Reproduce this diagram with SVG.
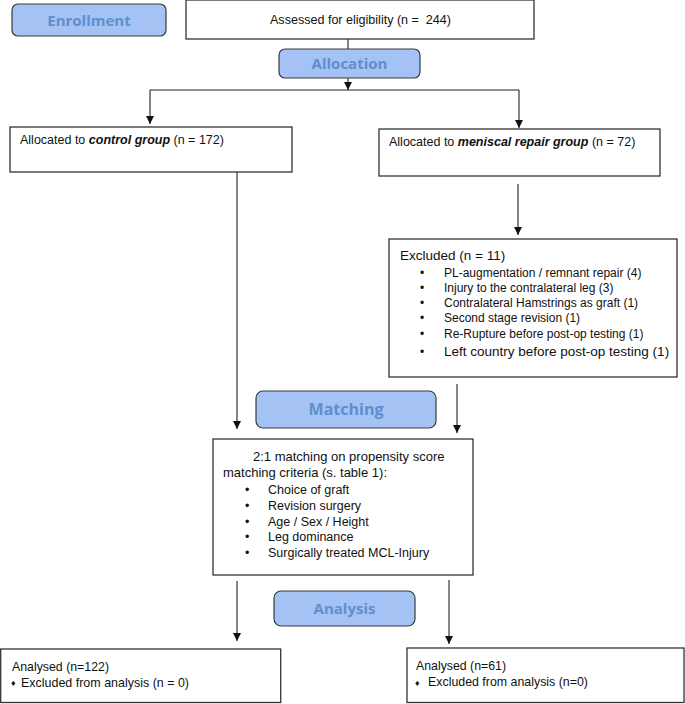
<svg xmlns="http://www.w3.org/2000/svg" width="685" height="704" viewBox="0 0 685 704">
<style>
.lbl{fill:#a4c2f4;stroke:#3a3a3a;stroke-width:1.2}
.lt{font-family:"Open Sans","Liberation Sans",sans-serif;font-weight:bold;fill:#5f8fcd;text-anchor:middle}
.box{fill:#fff;stroke:#333;stroke-width:1.3}
.t{font-family:"Liberation Sans",Arial,sans-serif;fill:#111}
.c{fill:none;stroke:#222;stroke-width:1.1}
</style>
<defs>
<marker id="ah" viewBox="0 0 10 10" refX="10" refY="5" markerWidth="8" markerHeight="8" markerUnits="userSpaceOnUse" orient="auto">
<path d="M0,0 L10,5 L0,10 z" fill="#111"/>
</marker>
</defs>
<g id="connectors">
<line class="c" x1="348" y1="39" x2="348" y2="49"/>
<line class="c" x1="348" y1="78" x2="348" y2="90" marker-end="url(#ah)"/>
<line class="c" x1="150" y1="90" x2="519" y2="90"/>
<line class="c" x1="150" y1="90" x2="150" y2="124" marker-end="url(#ah)"/>
<line class="c" x1="519" y1="90" x2="519" y2="128" marker-end="url(#ah)"/>
<line class="c" x1="518" y1="184" x2="518" y2="235" marker-end="url(#ah)"/>
<line class="c" x1="237" y1="172" x2="237" y2="429" marker-end="url(#ah)"/>
<line class="c" x1="457" y1="384" x2="457" y2="433" marker-end="url(#ah)"/>
<line class="c" x1="237" y1="581" x2="237" y2="641" marker-end="url(#ah)"/>
<line class="c" x1="449" y1="580" x2="449" y2="644" marker-end="url(#ah)"/>
</g>
<g id="enrollment">
<rect class="lbl" x="12" y="4" width="154" height="32" rx="6"/>
<text class="lt" x="89" y="26" font-size="15">Enrollment</text>
</g>
<g id="assessed">
<rect class="box" x="186" y="0" width="348" height="39"/>
<text class="t" x="270" y="24" font-size="13" xml:space="preserve" textLength="181" lengthAdjust="spacingAndGlyphs">Assessed for eligibility (n =  244)</text>
</g>
<g id="allocation">
<rect class="lbl" x="279" y="49" width="141" height="29" rx="6"/>
<text class="lt" x="349.5" y="69" font-size="15">Allocation</text>
</g>
<g id="control">
<rect class="box" x="10" y="127" width="282" height="45"/>
<text class="t" x="20" y="144" font-size="12.5">Allocated to <tspan font-weight="bold" font-style="italic">control group</tspan> (n = 172)</text>
</g>
<g id="meniscal">
<rect class="box" x="379" y="129" width="281" height="47"/>
<text class="t" x="389" y="146" font-size="12.5">Allocated to <tspan font-weight="bold" font-style="italic">meniscal repair group</tspan> (n = 72)</text>
</g>
<g id="excluded">
<rect class="box" x="389" y="239" width="288" height="138"/>
<text class="t" x="400" y="260" font-size="13.5">Excluded (n = 11)</text>
<g font-size="12" class="t">
<text x="420" y="277">•</text><text x="444" y="277">PL-augmentation / remnant repair (4)</text>
<text x="420" y="292">•</text><text x="444" y="292">Injury to the contralateral leg (3)</text>
<text x="420" y="307">•</text><text x="444" y="307">Contralateral Hamstrings as graft (1)</text>
<text x="420" y="322">•</text><text x="444" y="322">Second stage revision (1)</text>
<text x="420" y="338">•</text><text x="444" y="338">Re-Rupture before post-op testing (1)</text>
<text x="420" y="356">•</text><text x="444" y="356" font-size="13.5">Left country before post-op testing (1)</text>
</g>
</g>
<g id="matching">
<rect class="lbl" x="256" y="391" width="180" height="37" rx="7"/>
<text class="lt" x="346" y="415" font-size="16">Matching</text>
</g>
<g id="matchbox">
<rect class="box" x="213" y="439" width="260" height="136"/>
<g class="t">
<text x="253" y="461" font-size="13">2:1 matching on propensity score</text>
<text x="223" y="477" font-size="13">matching criteria (s. table 1):</text>
<g font-size="12.5">
<text x="245" y="494">•</text><text x="268" y="494">Choice of graft</text>
<text x="245" y="510">•</text><text x="268" y="510">Revision surgery</text>
<text x="245" y="526">•</text><text x="268" y="526">Age / Sex / Height</text>
<text x="245" y="541">•</text><text x="268" y="541">Leg dominance</text>
<text x="245" y="557">•</text><text x="268" y="557">Surgically treated MCL-Injury</text>
</g>
</g>
</g>
<g id="analysis">
<rect class="lbl" x="274" y="591" width="141" height="35" rx="7"/>
<text class="lt" x="344.5" y="614" font-size="15">Analysis</text>
</g>
<g id="analysed-left">
<rect class="box" x="0.7" y="649" width="280" height="53.5"/>
<text class="t" x="12" y="671" font-size="13" textLength="97" lengthAdjust="spacingAndGlyphs">Analysed (n=122)</text>
<text class="t" x="11" y="686" font-size="9">♦</text>
<text class="t" x="21" y="687" font-size="13" textLength="168" lengthAdjust="spacingAndGlyphs">Excluded from analysis (n = 0)</text>
</g>
<g id="analysed-right">
<rect class="box" x="407" y="648" width="277" height="54.5"/>
<text class="t" x="416" y="670" font-size="13" textLength="90" lengthAdjust="spacingAndGlyphs">Analysed (n=61)</text>
<text class="t" x="415" y="686" font-size="9">♦</text>
<text class="t" x="428" y="686" font-size="13" textLength="160" lengthAdjust="spacingAndGlyphs">Excluded from analysis (n=0)</text>
</g>
</svg>
